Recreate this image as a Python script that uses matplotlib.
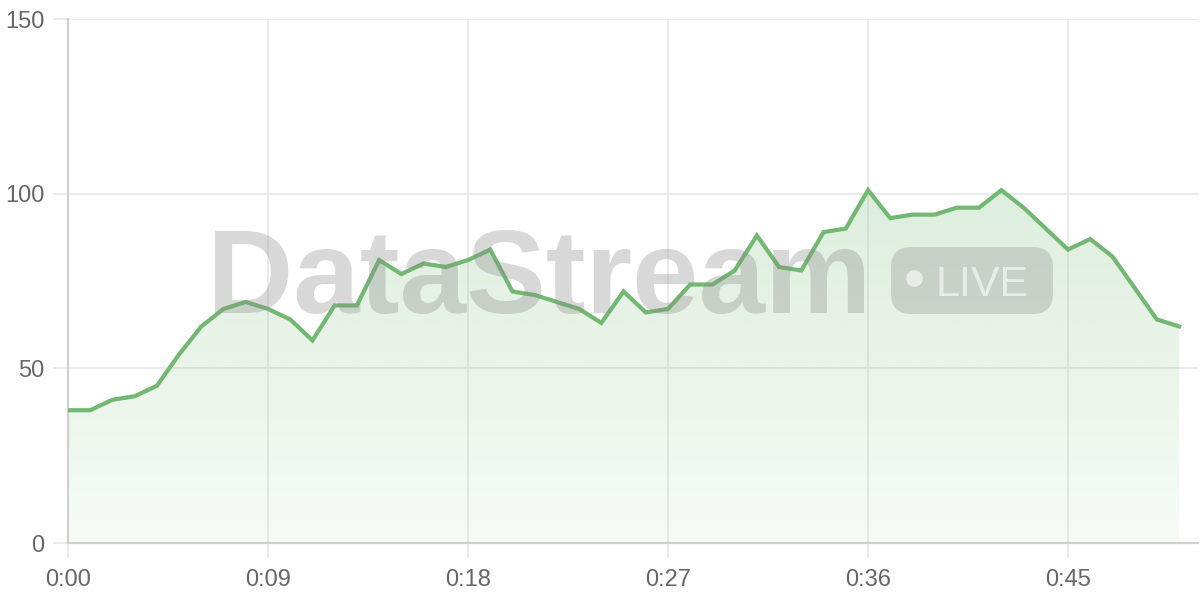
import matplotlib
matplotlib.use("Agg")
import matplotlib.pyplot as plt
import numpy as np
from matplotlib.patches import FancyBboxPatch, Polygon
from matplotlib.lines import Line2D
from matplotlib.colors import to_rgb

# ---- data ----
minutes = list(range(51))
values = [38, 38, 41, 42, 45, 54, 62, 67, 69, 67,
          64, 58, 68, 68, 81, 77, 80, 79, 81, 84,
          72, 71, 69, 67, 63, 72, 66, 67, 74, 74,
          78, 88, 79, 78, 89, 90, 101, 93, 94, 94,
          96, 96, 101, 96, 90, 84, 87, 82, 73, 64, 62]
x_ticks = [0, 9, 18, 27, 36, 45]
x_tick_labels = ["0:00", "0:09", "0:18", "0:27", "0:36", "0:45"]
y_ticks = [0, 50, 100, 150]

line_color = "#72b872"
font = "Liberation Sans"

fig = plt.figure(figsize=(12, 6), dpi=100)
ax = fig.add_axes([68/1200, 57/600, (1198-68)/1200, (543-19)/600])
ax.set_xlim(0, 50.85)
ax.set_ylim(0, 150)

x = np.array(minutes, dtype=float)
y = np.array(values, dtype=float)

# gradient fill
rgb = np.array(to_rgb(line_color))
n = 256
alphas = np.linspace(0.06, 0.24, n)
grad = np.zeros((n, 1, 4))
grad[:, 0, :3] = rgb
grad[:, 0, 3] = alphas
ymax = y.max()
im = ax.imshow(grad, aspect="auto", origin="lower",
               extent=[x[0], x[-1], 0, ymax], zorder=1, interpolation="bilinear")
poly_pts = np.vstack([np.column_stack([x, y]), [[x[-1], 0], [x[0], 0]]])
clip = Polygon(poly_pts, closed=True, facecolor="none", edgecolor="none")
ax.add_patch(clip)
im.set_clip_path(clip)

ax.plot(x, y, color=line_color, lw=3, zorder=3, solid_joinstyle="miter")

# axes styling
for s in ["top", "right"]:
    ax.spines[s].set_visible(False)
for s in ["left", "bottom"]:
    ax.spines[s].set_color("#d0d0d0")
    ax.spines[s].set_linewidth(1.6)
ax.set_xticks(x_ticks)
ax.set_xticklabels(x_tick_labels)
ax.set_yticks(y_ticks)
ax.grid(True, color="#e8e8e8", lw=1.2, zorder=0)
ax.set_axisbelow(True)
ax.tick_params(axis="both", length=11, width=1.2, color="#e8e8e8",
               labelcolor="#666666", labelsize=17)
ax.tick_params(axis="x", pad=8)
ax.tick_params(axis="y", pad=6)
for lab in ax.get_xticklabels() + ax.get_yticklabels():
    lab.set_fontfamily(font)

# watermark
fig.text(539/1200, (600-313)/600, "DataStream", fontsize=86, fontweight="bold",
         fontfamily=font, color="#888888", alpha=0.32, ha="center", va="baseline",
         zorder=10)
pill = FancyBboxPatch((891/1200, (600-314)/600), (1053-891)/1200, (314-247)/600,
                      boxstyle="round,pad=0,rounding_size=0.017",
                      transform=fig.transFigure, facecolor="#888888", alpha=0.3,
                      edgecolor="none", zorder=10, mutation_aspect=2)
fig.add_artist(pill)
dot = Line2D([914/1200], [(600-277.5)/600], transform=fig.transFigure,
             marker="o", markersize=12, markerfacecolor="white",
             markeredgecolor="none", alpha=0.6, zorder=11, linestyle="none")
fig.add_artist(dot)
fig.text(982/1200, (600-296)/600, "LIVE", fontsize=31, fontfamily=font,
         color="white", alpha=0.6, ha="center", va="baseline", zorder=11)

fig.savefig("out.png", dpi=100)
